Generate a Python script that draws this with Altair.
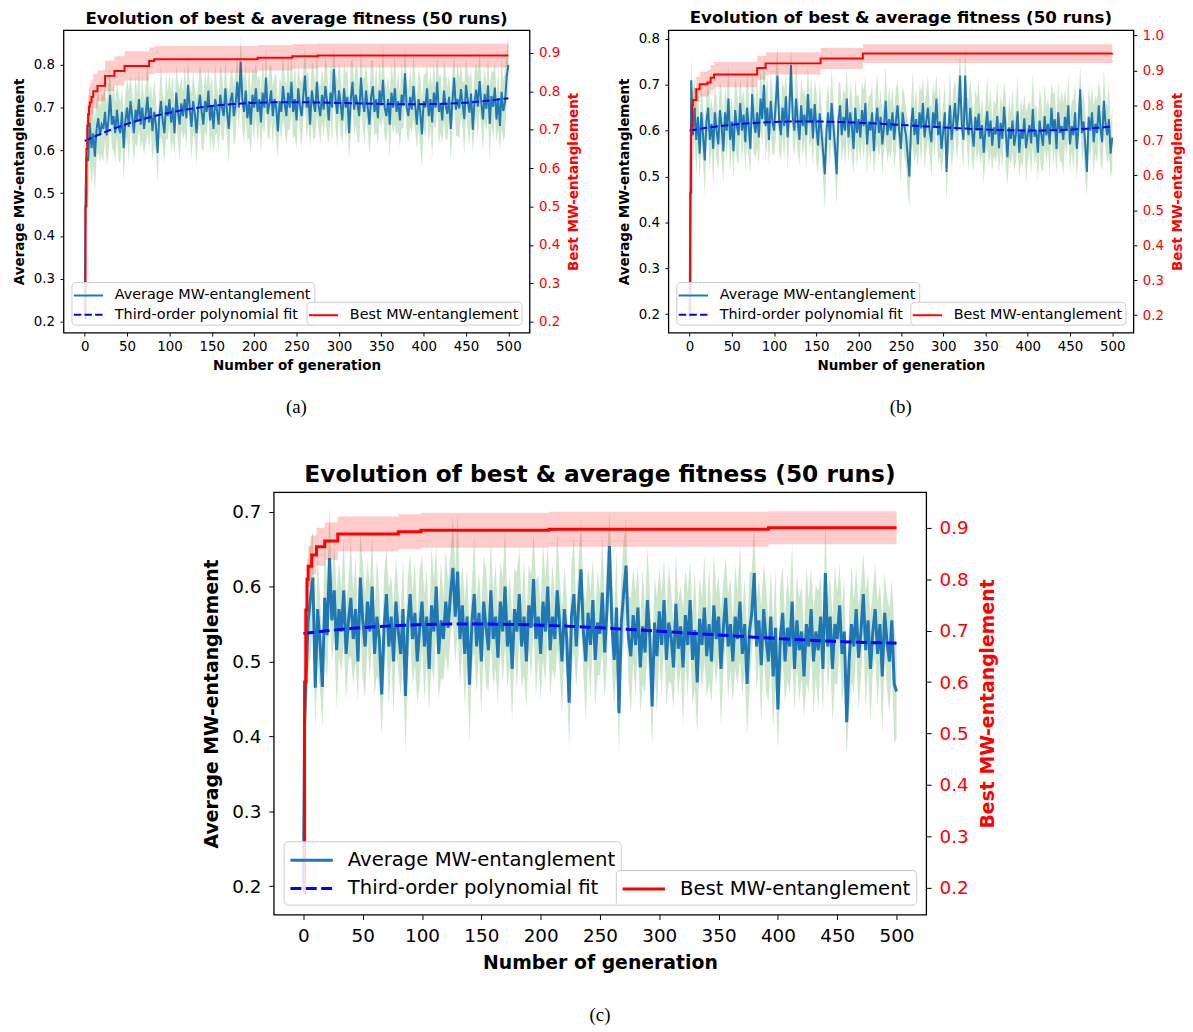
import altair as alt
import pandas as pd

FONT = "DejaVu Sans"
TITLE = "Evolution of best & average fitness (50 runs)"
AVG_LABEL = "Average MW-entanglement"
FIT_LABEL = "Third-order polynomial fit"
BEST_LABEL = "Best MW-entanglement"
X_TITLE = "Number of generation"

# generation index of every sampled point (0, 1, then every second generation)
GENS = [0, 1] + list(range(2, 501, 2))
X_TICKS = [0, 50, 100, 150, 200, 250, 300, 350, 400, 450, 500]

# all average / spread values below are in thousandths of MW-entanglement
# ---------------- panel (a) ----------------
avg_a = [215, 500,
         585, 575, 665, 605, 640, 585, 650, 675, 635, 660,
         650, 690, 635, 670, 730, 660, 680, 640, 695, 655,
         640, 690, 605, 670, 700, 655, 715, 680, 640, 695,
         670, 720, 660, 700, 650, 685, 725, 665, 700, 645,
         690, 660, 594, 680, 715, 670, 640, 705, 680, 720,
         665, 700, 640, 735, 690, 660, 710, 680, 720, 675,
         753, 700, 655, 715, 685, 640, 700, 730, 690, 660,
         715, 690, 740, 670, 705, 650, 720, 695, 660, 730,
         700, 680, 745, 690, 650, 715, 735, 680, 705, 760,
         700, 807, 720, 690, 740, 675, 715, 660, 730, 700,
         745, 690, 720, 665, 735, 700, 770, 685, 710, 740,
         680, 720, 700, 644, 715, 690, 750, 710, 680, 735,
         700, 760, 690, 720, 670, 745, 705, 680, 730, 775,
         700, 725, 660, 740, 710, 690, 760, 705, 680, 730,
         695, 750, 715, 670, 735, 700, 790, 720, 685, 740,
         710, 670, 745, 700, 725, 640, 720, 760, 695, 730,
         705, 680, 770, 715, 690, 740, 700, 660, 725, 750,
         690, 720, 675, 740, 705, 765, 700, 680, 720, 660,
         735, 700, 745, 690, 715, 670, 730, 705, 780, 700,
         680, 725, 695, 750, 705, 660, 720, 690, 637, 715,
         700, 745, 680, 720, 665, 735, 700, 760, 690, 710,
         670, 740, 705, 685, 725, 650, 715, 770, 695, 720,
         698, 743, 708, 673, 753, 718, 688, 733, 648, 713,
         742, 702, 762, 712, 672, 732, 697, 752, 662, 727,
         702, 747, 672, 722, 657, 737, 692, 712, 772, 800]
spread_a = [10, 55,
            88, 92, 85, 88, 78, 85, 70, 78, 62, 70,
            78, 62, 70, 85, 62, 55, 78, 70, 62, 78,
            70, 55, 78, 62, 70, 85, 62, 55, 70, 78,
            62, 70, 55, 78, 62, 70, 85, 62, 55, 70,
            78, 62, 70, 55, 85, 62, 70, 78, 55, 62,
            70, 78, 55, 62, 70, 85, 62, 55, 78, 70,
            62, 55, 78, 70, 62, 78, 55, 70, 85, 62,
            70, 62, 55, 78, 70, 62, 85, 55, 62, 70,
            78, 55, 70, 62, 85, 62, 55, 70, 78, 62,
            55, 62, 70, 78, 62, 55, 85, 70, 62, 78,
            62, 78, 55, 70, 78, 62, 70, 55, 85, 62,
            70, 55, 78, 62, 55, 70, 78, 62, 70, 85,
            55, 70, 62, 85, 70, 55, 62, 78, 55, 70,
            78, 62, 55, 70, 85, 62, 78, 55, 70, 62,
            62, 70, 78, 55, 62, 85, 55, 70, 78, 62,
            70, 55, 62, 78, 70, 62, 85, 55, 62, 70,
            85, 62, 70, 55, 78, 62, 55, 70, 85, 62,
            55, 78, 62, 70, 55, 85, 70, 62, 55, 78,
            70, 62, 85, 55, 70, 62, 78, 55, 70, 62,
            62, 70, 55, 78, 62, 55, 70, 85, 78, 62,
            78, 55, 70, 62, 85, 70, 55, 62, 78, 70,
            55, 70, 78, 62, 55, 78, 70, 55, 62, 85,
            70, 62, 55, 85, 62, 70, 78, 62, 55, 70,
            62, 78, 70, 55, 78, 62, 55, 70, 85, 62,
            78, 62, 55, 70, 62, 85, 70, 78, 62, 70]
best_gen_a = [0, 1, 2, 3, 4, 5, 6, 8, 10, 15, 24, 35, 47, 76, 82, 204, 245, 275, 500]
best_a = [0.21, 0.50, 0.65, 0.71, 0.74, 0.76, 0.771, 0.785, 0.80, 0.814, 0.84, 0.853,
          0.866, 0.879, 0.883, 0.887, 0.891, 0.893, 0.893]
best_std_a = [0.0, 0.04, 0.05, 0.05, 0.05, 0.05, 0.05, 0.045, 0.045, 0.04, 0.04, 0.038,
              0.038, 0.035, 0.035, 0.033, 0.032, 0.031, 0.031]

# ---------------- panel (b) ----------------
avg_b = [195, 450,
         710, 590, 650, 580, 630, 550, 640, 590, 535, 620,
         650, 580, 615, 560, 640, 600, 570, 645, 610, 555,
         640, 600, 670, 580, 620, 555, 645, 610, 590, 660,
         600, 635, 575, 650, 610, 560, 680, 620, 595, 640,
         585, 670, 625, 700, 610, 650, 580, 665, 620, 600,
         660, 720, 620, 590, 650, 610, 675, 585, 640, 743,
         630, 600, 670, 620, 580, 655, 610, 635, 590, 680,
         618, 648, 583, 658, 608, 568, 638, 598, 553, 505,
         600, 640, 580, 660, 615, 565, 505, 620, 655, 590,
         630, 600, 670, 585, 640, 610, 560, 650, 595, 625,
         585, 645, 610, 660, 570, 620, 600, 640, 555, 615,
         650, 595, 630, 570, 610, 665, 590, 625, 600, 640,
         580, 620, 655, 600, 560, 640, 610, 590, 545, 500,
         610, 650, 590, 625, 570, 640, 605, 660, 585, 620,
         650, 600, 575, 640, 610, 670, 590, 620, 560, 600,
         640, 510, 600, 655, 580, 620, 660, 600, 640, 720,
         610, 580, 720, 620, 590, 650, 600, 565, 630, 600,
         637, 582, 612, 552, 602, 642, 587, 622, 567, 607,
         592, 632, 562, 617, 582, 652, 597, 542, 607, 582,
         622, 567, 592, 642, 552, 602, 582, 627, 562, 592,
         612, 572, 647, 587, 602, 552, 622, 592, 567, 632,
         590, 615, 570, 650, 600, 625, 560, 640, 595, 610,
         580, 630, 600, 655, 570, 610, 590, 640, 560, 605,
         690, 595, 620, 570, 510, 630, 600, 640, 575, 615,
         595, 655, 605, 575, 665, 615, 590, 625, 550, 585]
spread_b = [5, 50,
            55, 62, 70, 78, 62, 55, 70, 62, 78, 55,
            62, 70, 55, 78, 62, 70, 55, 62, 78, 70,
            55, 62, 78, 70, 55, 62, 70, 78, 62, 55,
            70, 55, 62, 78, 70, 55, 62, 70, 55, 78,
            62, 70, 55, 62, 78, 70, 55, 62, 70, 55,
            78, 62, 70, 55, 62, 78, 55, 70, 62, 45,
            62, 55, 78, 70, 55, 62, 70, 55, 78, 62,
            55, 70, 62, 55, 78, 62, 70, 55, 62, 78,
            70, 62, 55, 78, 62, 55, 70, 78, 55, 62,
            62, 78, 70, 55, 62, 70, 55, 62, 78, 55,
            55, 62, 78, 62, 70, 55, 78, 62, 55, 70,
            78, 55, 62, 70, 55, 78, 62, 70, 62, 55,
            62, 70, 55, 62, 78, 55, 70, 62, 78, 70,
            55, 78, 62, 70, 55, 62, 78, 55, 70, 62,
            70, 55, 78, 62, 70, 55, 62, 78, 55, 62,
            62, 70, 55, 78, 62, 70, 55, 62, 70, 55,
            55, 62, 70, 55, 78, 62, 70, 55, 62, 70,
            78, 55, 62, 70, 55, 78, 62, 70, 55, 62,
            62, 78, 55, 62, 70, 55, 78, 62, 70, 55,
            70, 55, 62, 78, 55, 70, 62, 55, 78, 62,
            55, 70, 78, 62, 55, 62, 70, 78, 55, 70,
            62, 55, 70, 55, 78, 62, 55, 70, 62, 78,
            78, 62, 55, 70, 62, 55, 78, 62, 70, 55,
            55, 70, 62, 78, 55, 70, 62, 55, 78, 62,
            70, 55, 78, 62, 70, 55, 62, 78, 55, 70]
best_gen_b = [0, 1, 2, 3, 4, 8, 12, 21, 25, 29, 80, 90, 155, 205, 500]
best_b = [0.19, 0.55, 0.74, 0.80, 0.815, 0.846, 0.86, 0.865, 0.879, 0.888, 0.907, 0.920,
          0.934, 0.948, 0.949]
best_std_b = [0.0, 0.04, 0.04, 0.04, 0.035, 0.035, 0.035, 0.036, 0.036, 0.036, 0.034,
              0.032, 0.03, 0.027, 0.027]

# ---------------- panel (c) ----------------
avg_c = [195, 420,
         465, 555, 585, 612, 465, 570, 525, 466, 585, 535,
         638, 555, 595, 515, 570, 540, 595, 510, 555, 585,
         530, 570, 500, 612, 555, 520, 580, 540, 600, 510,
         560, 530, 456, 545, 590, 520, 560, 500, 580, 540,
         510, 570, 454, 550, 590, 530, 565, 500, 545, 580,
         520, 560, 490, 575, 540, 600, 510, 555, 530, 580,
         545, 590, 625, 560, 620, 530, 575, 510, 560, 469,
         550, 590, 520, 565, 500, 580, 545, 515, 595, 530,
         560, 505, 580, 540, 600, 520, 555, 490, 570, 540,
         590, 520, 560, 500, 575, 545, 610, 530, 560, 510,
         580, 540, 600, 515, 560, 530, 595, 550, 500, 570,
         530, 445, 560, 590, 520, 575, 623, 540, 500, 565,
         522, 582, 502, 552, 537, 592, 512, 572, 654, 552,
         502, 572, 431, 552, 592, 628, 532, 507, 562, 522,
         572, 492, 547, 512, 582, 532, 440, 552, 507, 567,
         522, 582, 502, 552, 532, 492, 577, 517, 547, 492,
         562, 522, 582, 502, 542, 472, 557, 522, 572, 507,
         550, 500, 575, 530, 560, 490, 545, 585, 520, 550,
         500, 560, 530, 580, 510, 550, 470, 540, 565, 618,
         520, 555, 495, 570, 530, 500, 560, 480, 545, 436,
         530, 565, 500, 545, 520, 580, 490, 555, 515, 540,
         480, 550, 520, 570, 500, 540, 515, 560, 490, 618,
         520, 560, 490, 550, 530, 575, 510, 540, 419, 500,
         550, 520, 570, 505, 540, 590, 515, 555, 490, 540,
         570, 510, 550, 480, 565, 525, 500, 555, 470, 460]
spread_c = [8, 50,
            62, 70, 78, 62, 55, 70, 62, 55, 78, 62,
            70, 55, 62, 78, 62, 55, 70, 62, 55, 78,
            62, 70, 55, 62, 78, 70, 55, 62, 70, 55,
            78, 62, 55, 70, 62, 78, 55, 70, 62, 55,
            55, 70, 78, 62, 55, 62, 70, 55, 78, 62,
            70, 62, 55, 78, 70, 55, 62, 78, 55, 70,
            62, 55, 70, 62, 78, 62, 55, 70, 62, 78,
            55, 78, 62, 55, 70, 62, 78, 55, 70, 62,
            70, 62, 55, 70, 78, 55, 62, 70, 55, 78,
            62, 55, 78, 62, 55, 70, 62, 78, 55, 62,
            78, 70, 55, 62, 70, 55, 78, 62, 70, 55,
            55, 62, 70, 78, 55, 62, 70, 55, 78, 62,
            70, 55, 62, 70, 55, 78, 62, 70, 45, 62,
            62, 78, 55, 62, 70, 62, 55, 78, 62, 70,
            55, 62, 78, 55, 70, 62, 55, 62, 78, 55,
            70, 55, 62, 78, 62, 55, 70, 62, 55, 78,
            62, 70, 55, 62, 78, 70, 55, 62, 70, 55,
            78, 55, 70, 62, 55, 78, 62, 55, 70, 62,
            55, 70, 62, 78, 55, 62, 70, 78, 55, 70,
            62, 55, 78, 62, 70, 55, 62, 70, 78, 55,
            70, 62, 55, 70, 62, 78, 55, 62, 70, 62,
            55, 78, 62, 55, 70, 62, 78, 55, 62, 70,
            62, 55, 70, 78, 62, 55, 62, 70, 45, 62,
            78, 62, 55, 70, 62, 55, 78, 62, 70, 55,
            62, 70, 55, 78, 55, 62, 70, 55, 78, 62]
best_gen_c = [0, 1, 2, 3, 4, 7, 11, 18, 29, 80, 99, 207, 392, 500]
best_c = [0.19, 0.60, 0.74, 0.80, 0.825, 0.847, 0.863, 0.874, 0.888, 0.892, 0.895,
          0.897, 0.900, 0.900]
best_std_c = [0.0, 0.04, 0.04, 0.04, 0.04, 0.038, 0.037, 0.036, 0.034, 0.034, 0.034,
              0.034, 0.032, 0.032]

for arr in (avg_a, spread_a, avg_b, spread_b, avg_c, spread_c):
    assert len(arr) == len(GENS), len(arr)

SMALL = dict(title=16.8, lab=13.5, atitle=13.6, leg=14.5, lw=2, dash=[7.5, 3.2], tick=3.5,
             ylpad=5.5, ytpad=7, xlpad=3.5, xtpad=6, loff=8, lpadd=3, sym=340,
             path="M-1.6,0L1.6,0", symoff=3.7, loffset=16, rowpad=2.6, toff=2,
             cap=19, capoff=25)
BIG = dict(title=23.5, lab=18.5, atitle=19, leg=19.8, lw=3, dash=[11, 4.5], tick=5,
           ylpad=8, ytpad=10, xlpad=7, xtpad=9, loff=10, lpadd=5.7, sym=576,
           path="M-1.78,0L1.78,0", symoff=9, loffset=23, rowpad=4.4, toff=6,
           cap=19, capoff=33)


def panel(avg, spread, bgen, bval, bstd, yl_dom, yr_dom, yl_ticks, yr_ticks, W, H, st, caption):
    df_avg = pd.DataFrame({"gen": GENS, "avg_m": avg, "spread_m": spread})
    df_avg["avg"] = df_avg["avg_m"] / 1000.0
    df_avg["lo"] = (df_avg["avg_m"] - df_avg["spread_m"]) / 1000.0
    df_avg["hi"] = (df_avg["avg_m"] + df_avg["spread_m"]) / 1000.0
    df_avg["series"] = AVG_LABEL
    df_best = pd.DataFrame({"gen": bgen, "best": bval, "std": bstd})
    df_best["blo"] = df_best["best"] - df_best["std"]
    df_best["bhi"] = df_best["best"] + df_best["std"]
    df_best["series"] = BEST_LABEL

    common_axis = dict(grid=False, domain=False, ticks=True, tickColor="black", tickWidth=1,
                       tickSize=st["tick"], labelFont=FONT, labelFontSize=st["lab"],
                       titleFont=FONT, titleFontSize=st["atitle"], titleFontWeight="bold")
    x = alt.X("gen:Q", scale=alt.Scale(domain=[-25, 525], nice=False, zero=False),
              axis=alt.Axis(values=X_TICKS, format="d", title=X_TITLE, labelColor="black",
                            titleColor="black", labelFlush=False, labelOverlap=False,
                            labelPadding=st["xlpad"], titlePadding=st["xtpad"], **common_axis))
    yl_scale = alt.Scale(domain=yl_dom, nice=False, zero=False)
    yl_axis = alt.Axis(values=yl_ticks, format=".1f", title=AVG_LABEL, labelColor="black",
                       titleColor="black", labelPadding=st["ylpad"], titlePadding=st["ytpad"],
                       **common_axis)
    yr_scale = alt.Scale(domain=yr_dom, nice=False, zero=False)
    yr_axis = alt.Axis(orient="right", values=yr_ticks, format=".1f", title=BEST_LABEL,
                       labelColor="#ff0000", titleColor="#ff0000", titleAngle=270,
                       titleBaseline="top", labelPadding=st["ylpad"], titlePadding=st["ytpad"],
                       **common_axis)

    def legend(orient):
        return alt.Legend(title=None, orient=orient, offset=st["loff"],
                          fillColor="rgba(255,255,255,0.85)", strokeColor="#cccccc",
                          cornerRadius=4, padding=st["lpadd"], labelFont=FONT,
                          labelFontSize=st["leg"], labelColor="black", labelLimit=1000,
                          symbolType=st["path"], symbolStrokeWidth=st["lw"],
                          symbolSize=st["sym"], symbolOffset=st["symoff"],
                          labelOffset=st["loffset"], rowPadding=st["rowpad"])

    leg_l = legend("bottom-left")
    color_l = alt.Color("series:N", scale=alt.Scale(domain=[AVG_LABEL, FIT_LABEL],
                                                     range=["#1f77b4", "#0000ff"]), legend=leg_l)
    dash_l = alt.StrokeDash("series:N", scale=alt.Scale(domain=[AVG_LABEL, FIT_LABEL],
                                                         range=[[1, 0], st["dash"]]), legend=leg_l)

    base = alt.Chart(df_avg)
    green = base.mark_area(color="#008000", opacity=0.2).encode(
        x=x, y=alt.Y("lo:Q", scale=yl_scale, axis=yl_axis), y2="hi:Q")
    blue = base.mark_line(strokeWidth=st["lw"]).encode(
        x=x, y=alt.Y("avg:Q", scale=yl_scale, axis=yl_axis), color=color_l, strokeDash=dash_l)
    fit = base.transform_filter("datum.gen >= 1").transform_regression(
        "gen", "avg", method="poly", order=3, extent=[0, 500]
    ).transform_calculate(series=f"'{FIT_LABEL}'").mark_line(strokeWidth=st["lw"]).encode(
        x=x, y=alt.Y("avg:Q", scale=yl_scale, axis=yl_axis), color=color_l, strokeDash=dash_l)

    bbase = alt.Chart(df_best)
    pink = bbase.mark_area(color="#ff0000", opacity=0.2, interpolate="step-after").encode(
        x=x, y=alt.Y("blo:Q", scale=yr_scale, axis=yr_axis), y2="bhi:Q")
    red = bbase.mark_line(strokeWidth=st["lw"], interpolate="step-after").encode(
        x=x, y=alt.Y("best:Q", scale=yr_scale, axis=yr_axis),
        color=alt.Color("series:N", scale=alt.Scale(domain=[BEST_LABEL], range=["#ff0000"]),
                        legend=legend("bottom-right")))

    chart = alt.layer(alt.layer(green, blue, fit), alt.layer(pink, red)).resolve_scale(
        y="independent", color="independent", strokeDash="independent"
    ).properties(
        width=W, height=H,
        title=alt.TitleParams(TITLE, font=FONT, fontSize=st["title"], fontWeight="bold",
                              color="black", anchor="middle", frame="group", offset=st["toff"]))
    return alt.vconcat(chart).properties(
        title=alt.TitleParams(caption, orient="bottom", anchor="middle", font="Liberation Serif",
                              fontSize=st["cap"], fontWeight="normal", color="black",
                              offset=st["capoff"]))


A = panel(avg_a, spread_a, best_gen_a, best_a, best_std_a, [0.174, 0.881], [0.172, 0.959],
          [0.2, 0.3, 0.4, 0.5, 0.6, 0.7, 0.8], [0.2, 0.3, 0.4, 0.5, 0.6, 0.7, 0.8, 0.9],
          470, 305, SMALL, "(a)")
B = panel(avg_b, spread_b, best_gen_b, best_b, best_std_b, [0.160, 0.819], [0.150, 1.015],
          [0.2, 0.3, 0.4, 0.5, 0.6, 0.7, 0.8], [0.2, 0.3, 0.4, 0.5, 0.6, 0.7, 0.8, 0.9, 1.0],
          469, 305, SMALL, "(b)")
C = panel(avg_c, spread_c, best_gen_c, best_c, best_std_c, [0.162, 0.726], [0.148, 0.969],
          [0.2, 0.3, 0.4, 0.5, 0.6, 0.7], [0.2, 0.3, 0.4, 0.5, 0.6, 0.7, 0.8, 0.9],
          658, 426, BIG, "(c)")

# empty, invisible spacer that pushes panel (c) to its horizontal place
spacer = alt.Chart(pd.DataFrame({"v": [0]})).mark_point(opacity=0).encode(
    x=alt.value(0), y=alt.value(0)
).properties(width=138, height=1, view=alt.ViewBackground(stroke="transparent"))

chart = alt.vconcat(
    alt.hconcat(A, B, spacing=35),
    alt.hconcat(spacer, C, spacing=0),
    spacing=45,
).configure_view(stroke="black", strokeWidth=1.3).properties(
    padding={"left": 3, "top": -4, "right": 0, "bottom": 0}, background="white")

chart.save("out.html", embed_options={"renderer": "svg", "actions": False})
